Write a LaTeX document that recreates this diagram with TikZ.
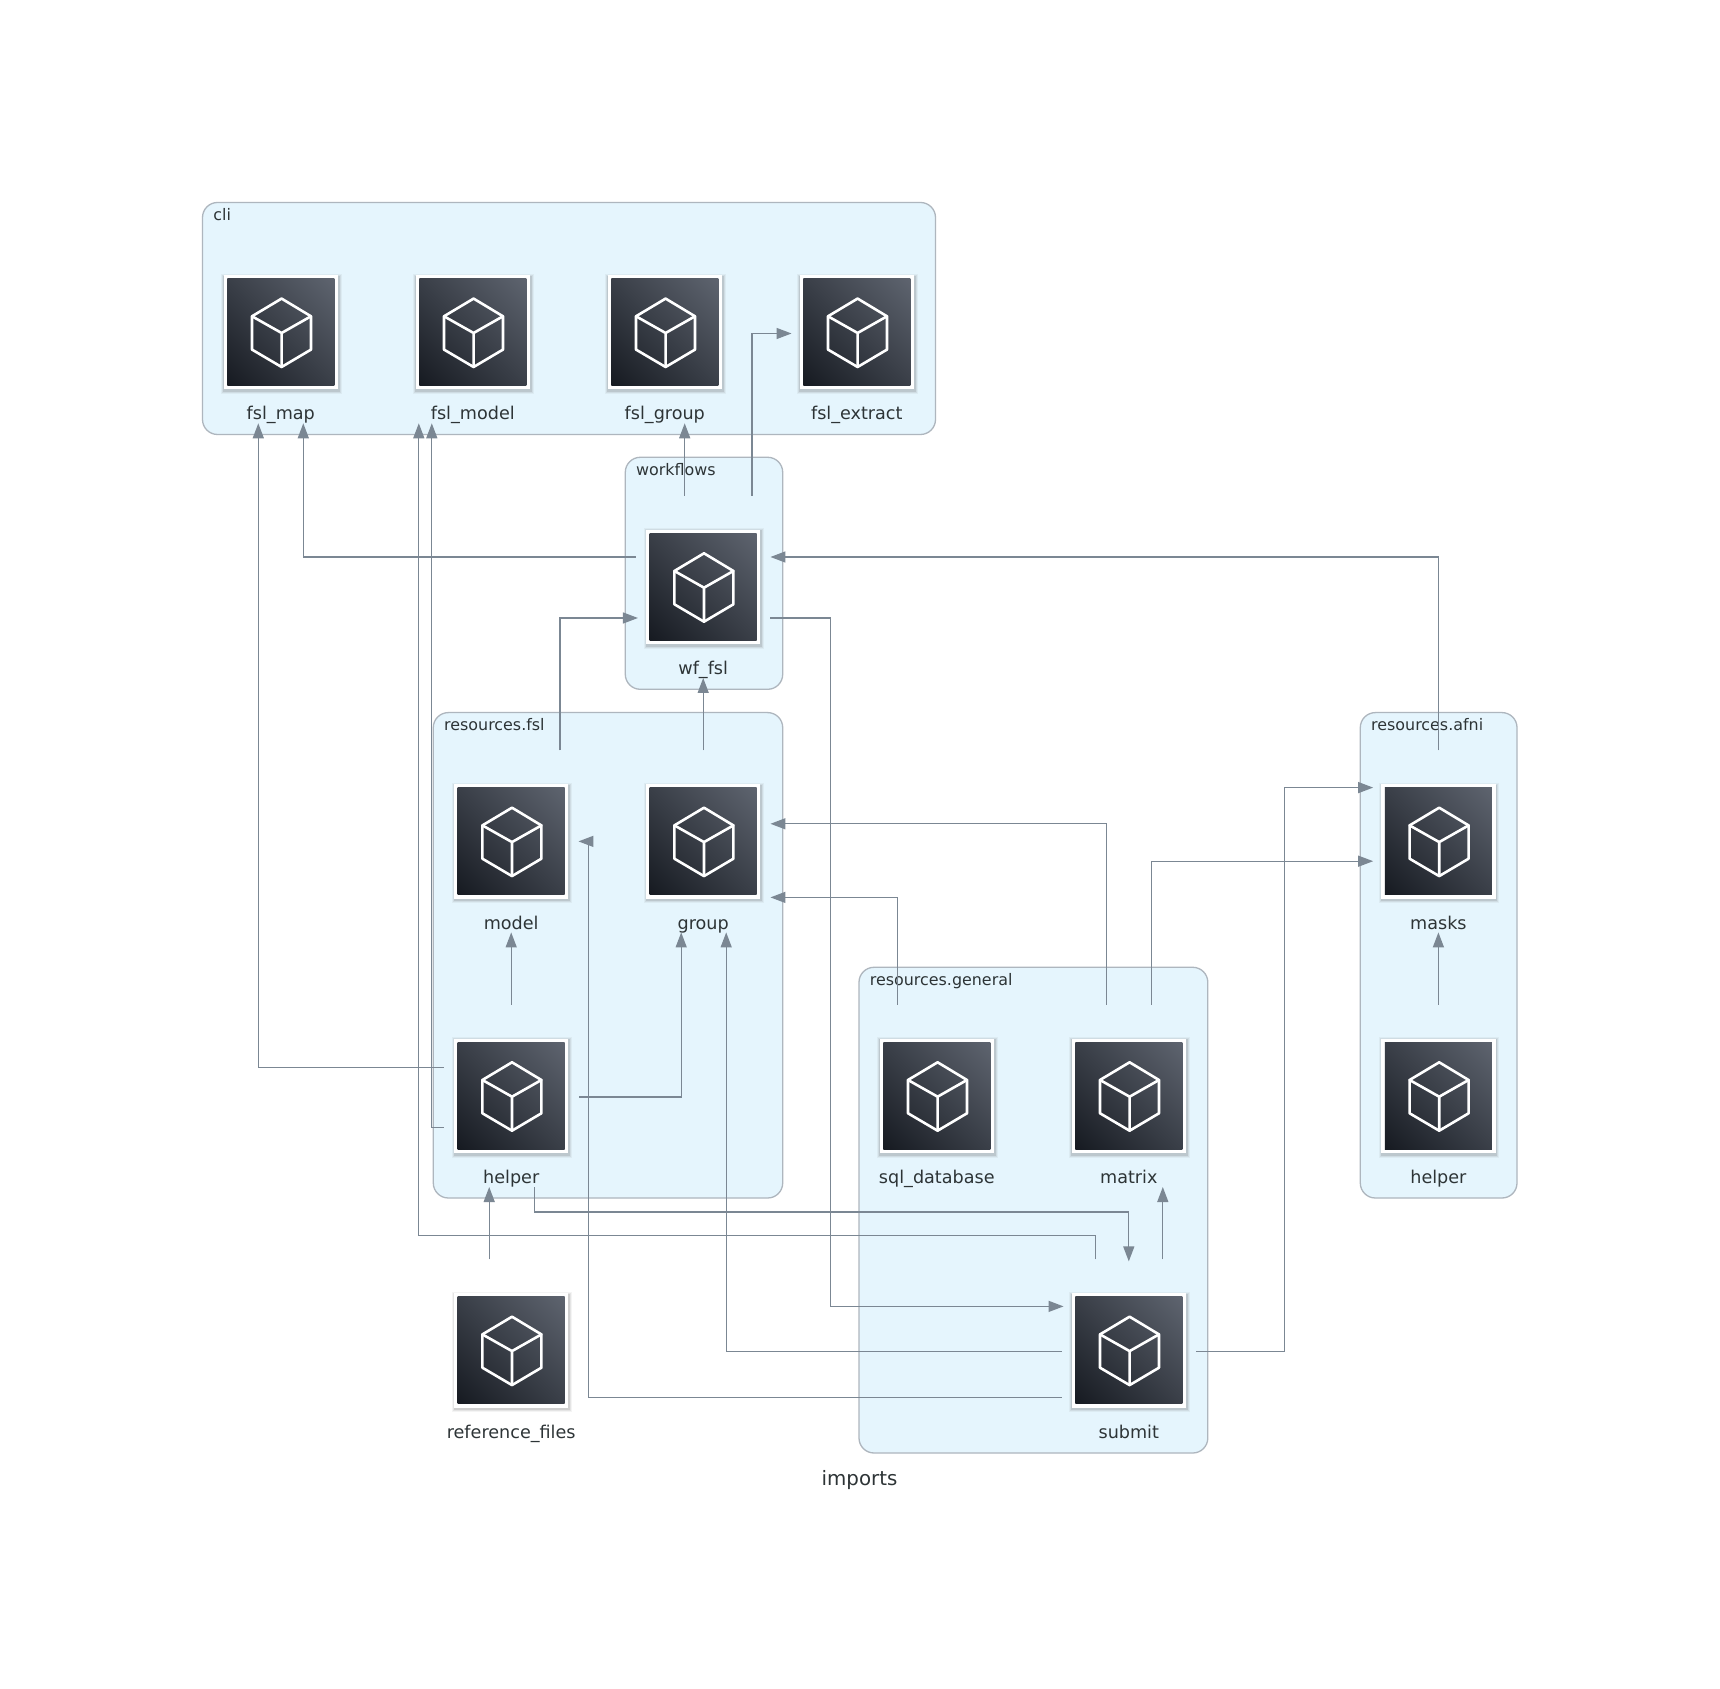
\documentclass[tikz,border=0pt]{standalone}
\usepackage{fontspec}
\setmainfont{DejaVu Sans}
\usetikzlibrary{arrows.meta,calc}
\definecolor{clfill}{HTML}{E5F5FD}
\definecolor{clpen}{HTML}{AEB6BE}
\definecolor{txt}{HTML}{2D3436}
\definecolor{edgec}{HTML}{7B8793}
\definecolor{icodark}{HTML}{161A21}
\definecolor{icolight}{HTML}{5E646F}
\tikzset{
  hit/.style={rectangle,minimum width=67.25pt,minimum height=91pt,inner sep=0pt,outer sep=0pt},
  cluster/.style={draw=clpen,fill=clfill,line width=0.65pt,rounded corners=7.5pt},
  cltext/.style={anchor=base west,inner sep=0pt,text=txt,font=\fontsize{7.95}{9.5}\selectfont},
  modtext/.style={anchor=base,inner sep=0pt,text=txt,font=\fontsize{8.8}{10}\selectfont},
  edge/.style={draw=edgec,line width=0.65pt,-{Triangle[width=5.5pt,length=7.5pt]}},
  cube/.style={draw=white,line width=1.3pt,line join=round,line cap=round}
}
\newcommand{\modnode}[4]{%
  \node[hit] (#1) at (#2,#3) {};
  \begin{scope}[shift={(#2,#3)}]
    \foreach \g/\o in {3/.06,2/.09,1/.14}{
      \fill[black!70,opacity=\o] (-57.2-\g+.5,-57.2-\g+1.5) rectangle (57.2+\g+.5,57.2+\g+1.5);
    }
    \fill[white] (-57.2,-57.2) rectangle (57.2,57.2);
    \begin{scope}
      \clip (-53.5,-53.5) rectangle (53.5,53.5);
      \shade[top color=icolight,bottom color=icodark,shading angle=-45] (-76,-76) rectangle (76,76);
    \end{scope}
    \draw[cube] (.8,-33.7) -- (30.2,-16) -- (30.2,17.3) -- (.8,34.7) -- (-28.8,17.3) -- (-28.8,-16) -- cycle;
    \draw[cube] (-28.8,-16) -- (.8,.7) -- (30.2,-16) (.8,.7) -- (.8,34.7);
  \end{scope}
  \node[modtext] (#1-label) at (#2,#3+87.7) {#4};
}
\newcommand{\clusterbox}[6]{%
  \path[cluster] (#2,#3) rectangle (#4,#5);
  \node[cltext] (#1) at (#2+10.5,#3+18.2) {#6};
}
\begin{document}
\begin{tikzpicture}[x=0.5pt,y=-0.5pt]
\useasboundingbox (0,0) rectangle (1720,1689);
\fill[white] (0,0) rectangle (1720,1689);
% clusters
\clusterbox{cl-cli}{202.5}{202.5}{935.5}{434.5}{cli}
\clusterbox{cl-wf}{625.3}{457.3}{782.7}{689.3}{workflows}
\clusterbox{cl-fsl}{433.3}{712.6}{782.7}{1198}{resources.fsl}
\clusterbox{cl-gen}{859}{967.3}{1207.8}{1453}{resources.general}
\clusterbox{cl-afni}{1360.3}{712.6}{1517}{1198}{resources.afni}
% modules
\modnode{fslmap}{280.8}{332.3}{fsl\_map}
\modnode{fslmodel}{472.8}{332.3}{fsl\_model}
\modnode{fslgroup}{664.8}{332.3}{fsl\_group}
\modnode{fslextract}{856.8}{332.3}{fsl\_extract}
\modnode{wf}{703.2}{587}{wf\_fsl}
\modnode{model}{511.2}{841.4}{model}
\modnode{group}{703.2}{841.4}{group}
\modnode{masks}{1438.4}{841.4}{masks}
\modnode{helper}{511.2}{1096}{helper}
\modnode{sqldb}{936.8}{1096}{sql\_database}
\modnode{matrix}{1128.8}{1096}{matrix}
\modnode{afnihelper}{1438.4}{1096}{helper}
\modnode{refs}{511.2}{1350.4}{reference\_files}
\modnode{submit}{1128.8}{1350.4}{submit}
% title
\node[anchor=base,inner sep=0pt,text=txt,font=\fontsize{9.9}{12}\selectfont] (title) at (859.5,1485) {imports};
% connectors
\draw[edge] ([yshift=15pt]wf.west) -| ([xshift=11.25pt]fslmap.south);
\draw[edge] ([xshift=-9.25pt]wf.north) -- ([xshift=-9.25pt]wf.north |- fslgroup.south);
\draw[edge] ([xshift=24.4pt]wf.north) |- ([xshift=1pt,yshift=-.6pt]fslextract.west);
\draw[edge] (masks.north) |- ([yshift=15pt]wf.east);
\draw[edge] ([yshift=-15.5pt]wf.east) -- ++(60,0) |- ([xshift=1pt,yshift=22pt]submit.west);
\draw[edge] (group.north) -- (wf.south);
\draw[edge] ([xshift=24.4pt]model.north) |- ([xshift=1pt,yshift=-15.5pt]wf.west);
\draw[edge] ([xshift=-11pt]matrix.north) |- ([yshift=8.8pt]group.east);
\draw[edge] ([xshift=-19.75pt]sqldb.north) |- ([yshift=-28pt]group.east);
\draw[edge] ([xshift=11.5pt]matrix.north) |- ([xshift=1pt,yshift=-9.9pt]masks.west);
\draw[edge] ([yshift=-.5pt]submit.east) -- ++(88.3,0) |- ([xshift=1pt,yshift=26.9pt]masks.west);
\draw[edge] (afnihelper.north) -- (masks.south);
\draw[edge] (helper.north) -- (model.south);
\draw[edge] ([xshift=.5pt,yshift=-.5pt]helper.east) -| ([xshift=-11pt]group.south);
\draw[edge] ([yshift=14.25pt]helper.west) -| ([xshift=-11.25pt]fslmap.south);
\draw[edge] ([yshift=-15.9pt]helper.west) -| ([xshift=-20.5pt]fslmodel.south);
\draw[edge] ([xshift=11.5pt]helper.south) -- ++(0,25) -| ([yshift=-1pt]submit.north);
\draw[edge] ([xshift=-16.5pt]submit.north) -- ++(0,-24) -| ([xshift=-27pt]fslmodel.south);
\draw[edge] ([xshift=-11pt]refs.north) -- ([xshift=-11pt]helper.south);
\draw[edge] ([xshift=17pt]submit.north) -- ([xshift=17pt]matrix.south);
\draw[edge] ([yshift=-.5pt]submit.west) -| ([xshift=11.5pt]group.south);
\draw[edge] ([yshift=-23.6pt]submit.west) -| ([xshift=5pt]model.east) -- (model.east);
\end{tikzpicture}
\end{document}
